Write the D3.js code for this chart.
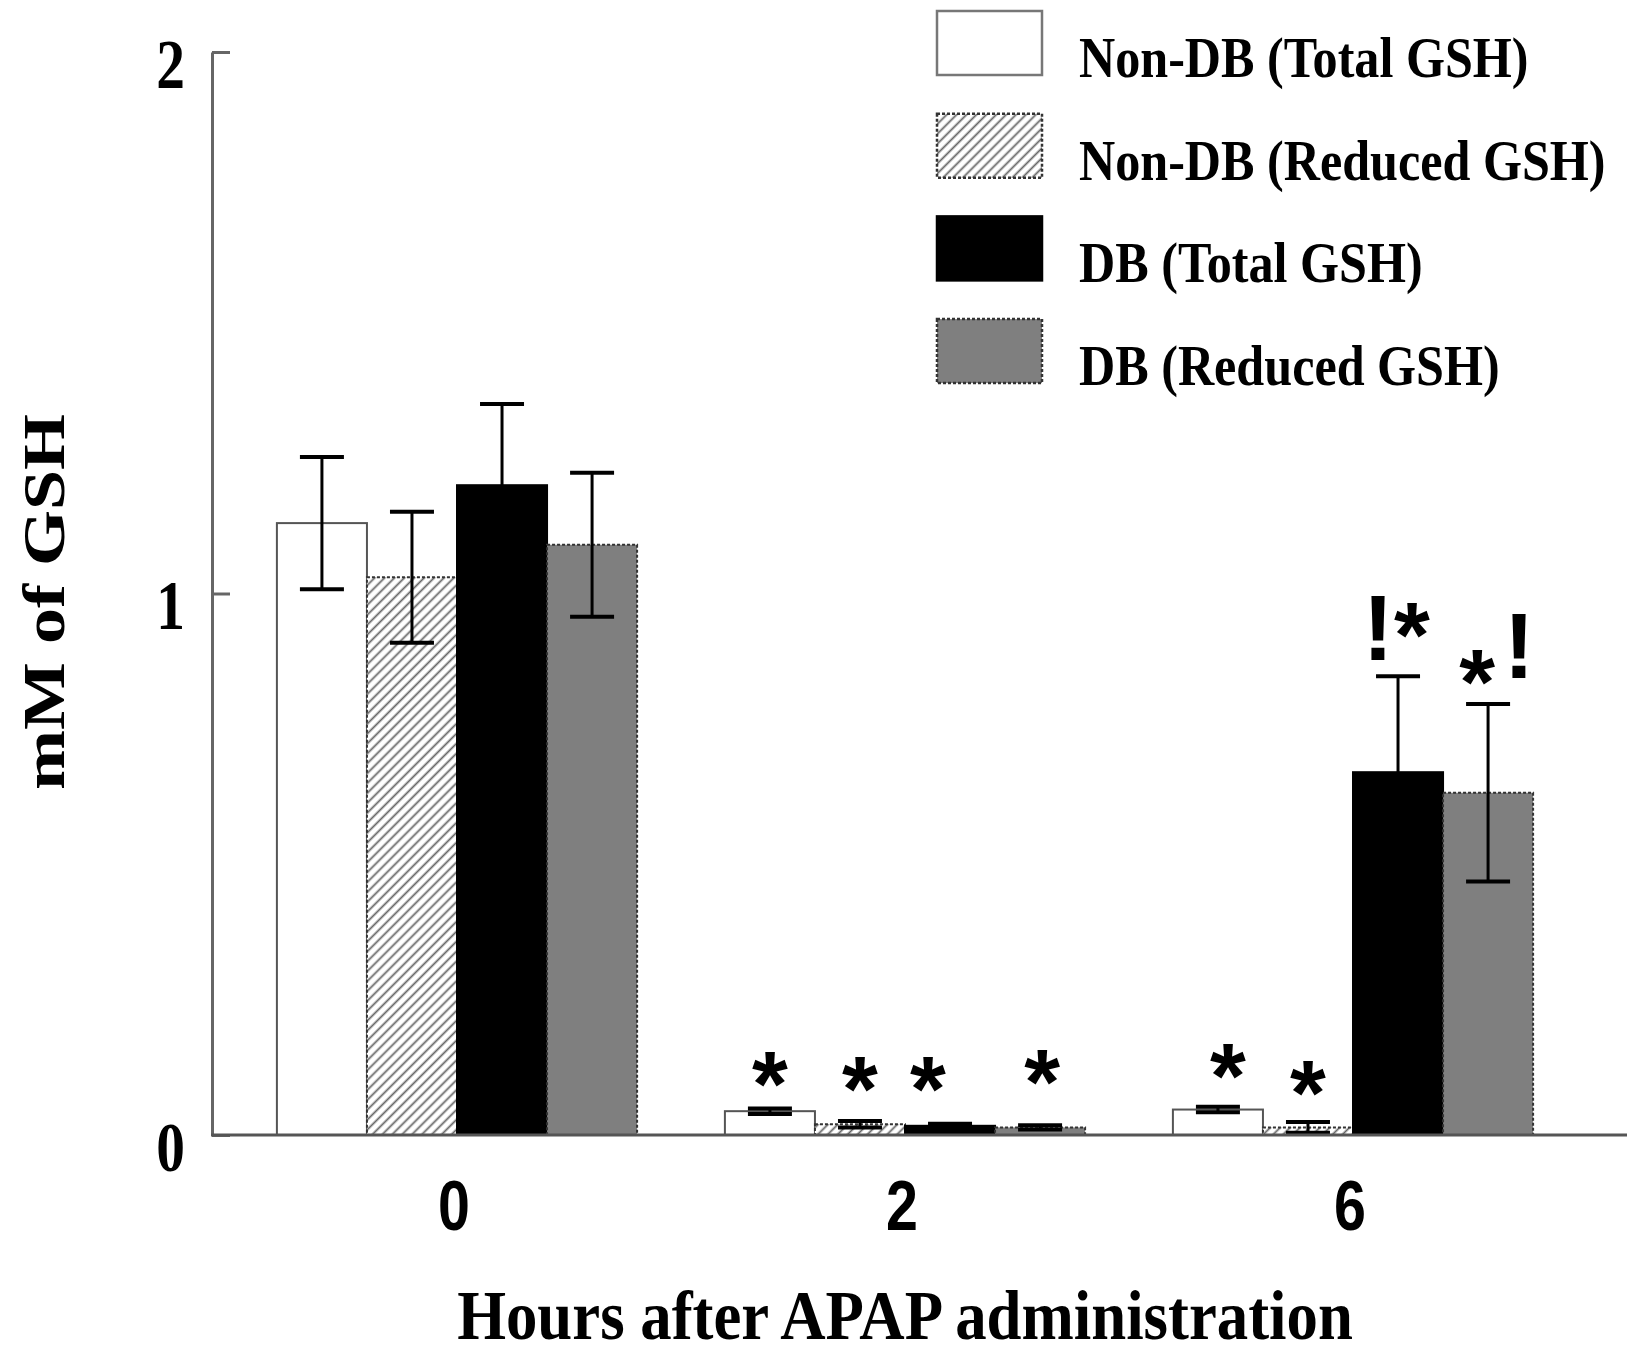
<!DOCTYPE html>
<html>
<head>
<meta charset="utf-8">
<script src="https://cdn.jsdelivr.net/npm/d3@7"></script>
<style>
  html, body { margin: 0; padding: 0; background: #fff; }
  svg { display: block; }
</style>
</head>
<body>
<svg id="chart" width="1627" height="1355"></svg>
<script>
// ---------- data ----------
const hours = ["0", "2", "6"];
const seriesNames = ["Non-DB (Total GSH)", "Non-DB (Reduced GSH)", "DB (Total GSH)", "DB (Reduced GSH)"];
const nonDbTotal       = [1.13, 0.044, 0.047];
const nonDbReduced     = [1.03, 0.020, 0.014];
const dbTotal          = [1.20, 0.017, 0.670];
const dbReduced        = [1.09, 0.014, 0.632];
const nonDbTotalErr    = [0.122, 0.005, 0.005];
const nonDbReducedErr  = [0.121, 0.006, 0.010];
const dbTotalErr       = [0.150, 0.004, 0.177];
const dbReducedErr     = [0.133, 0.004, 0.164];
const yTicks = [0, 1, 2];
const yTitle = "mM of GSH";
const xTitle = "Hours after APAP administration";
// significance marks: hour, series index, glyph
const marks = [
  {hour: "2", s: 0, t: "*"}, {hour: "2", s: 1, t: "*"}, {hour: "2", s: 2, t: "*"}, {hour: "2", s: 3, t: "*"},
  {hour: "6", s: 0, t: "*"}, {hour: "6", s: 1, t: "*"},
  {hour: "6", s: 2, t: "!"}, {hour: "6", s: 2, t: "*"},
  {hour: "6", s: 3, t: "*"}, {hour: "6", s: 3, t: "!"}
];

const values = [nonDbTotal, nonDbReduced, dbTotal, dbReduced];
const errors = [nonDbTotalErr, nonDbReducedErr, dbTotalErr, dbReducedErr];

// ---------- layout / style (not data) ----------
const markNudge = [ // [dx, gap above error top to glyph centre / bottom]
  [0, 44], [0, 51], [-22, 54], [2, 63],
  [10, 50], [0, 49],
  [-20, 16], [14, 61],
  [-11, 41], [31, 26]
];
const styles = [
  {fill: "#ffffff", stroke: "#555", dash: null, sw: 2},
  {fill: "url(#hatch)", stroke: "#333", dash: "3,2", sw: 2},
  {fill: "#000000", stroke: "#000", dash: null, sw: 2},
  {fill: "#7f7f7f", stroke: "#333", dash: "3,2", sw: 2}
];
const SERIF = "'Liberation Serif', 'Times New Roman', serif";
const SANS = "'Liberation Sans', Arial, sans-serif";

const svg = d3.select("#chart");
svg.append("rect").attr("width", 1627).attr("height", 1355).attr("fill", "#fff");

const defs = svg.append("defs");
const pat = defs.append("pattern").attr("id", "hatch")
  .attr("patternUnits", "userSpaceOnUse").attr("width", 7).attr("height", 7)
  .attr("patternTransform", "rotate(45)");
pat.append("rect").attr("width", 7).attr("height", 7).attr("fill", "#fff");
pat.append("line").attr("x1", 1.5).attr("y1", 0).attr("x2", 1.5).attr("y2", 7)
  .attr("stroke", "#666").attr("stroke-width", 1.8);

const y = d3.scaleLinear().domain([0, 2]).range([1135, 52]);
const x0 = d3.scaleBand().domain(hours).range([233, 1577]).paddingInner(0.196).paddingOuter(0.098);
const x1 = d3.scaleBand().domain(d3.range(seriesNames.length)).range([0, x0.bandwidth()]);

// bars
const plot = svg.append("g");
hours.forEach((h, hi) => {
  seriesNames.forEach((name, si) => {
    const v = values[si][hi];
    const st = styles[si];
    plot.append("rect")
      .attr("x", x0(h) + x1(si))
      .attr("y", y(v))
      .attr("width", x1.bandwidth())
      .attr("height", y(0) - y(v))
      .attr("fill", st.fill)
      .attr("stroke", st.stroke)
      .attr("stroke-width", st.sw)
      .attr("stroke-dasharray", st.dash);
  });
});

// error bars
const capW = 44;
hours.forEach((h, hi) => {
  seriesNames.forEach((name, si) => {
    const v = values[si][hi], e = errors[si][hi];
    const cx = x0(h) + x1(si) + x1.bandwidth() / 2;
    const g = plot.append("g").attr("stroke", "#000");
    g.append("line").attr("x1", cx).attr("x2", cx).attr("y1", y(v + e)).attr("y2", y(v - e)).attr("stroke-width", 3);
    [v + e, v - e].forEach(val => {
      g.append("line").attr("x1", cx - capW / 2).attr("x2", cx + capW / 2)
        .attr("y1", y(val)).attr("y2", y(val)).attr("stroke-width", 4);
    });
  });
});

// significance marks
const FS_MARK = 92;
marks.forEach((m, i) => {
  const hi = hours.indexOf(m.hour);
  const top = y(values[m.s][hi] + errors[m.s][hi]);
  const cx = x0(m.hour) + x1(m.s) + x1.bandwidth() / 2 + markNudge[i][0];
  let base;
  if (m.t === "*") base = top - markNudge[i][1] + 0.56 * FS_MARK; // glyph centre -> baseline
  else base = top - markNudge[i][1];
  svg.append("text").attr("x", cx).attr("y", base)
    .attr("text-anchor", "middle")
    .attr("font-family", SANS).attr("font-weight", "bold").attr("font-size", FS_MARK)
    .text(m.t);
});

// axes
const yAxis = svg.append("g").attr("transform", "translate(212,0)")
  .call(d3.axisLeft(y).tickValues(yTicks).tickFormat(d3.format("d"))
    .tickSizeInner(-18).tickSizeOuter(0).tickPadding(27));
yAxis.select(".domain").attr("stroke", "#666").attr("stroke-width", 3);
yAxis.selectAll(".tick line").attr("stroke", "#666").attr("stroke-width", 3);
yAxis.selectAll(".tick text")
  .attr("x", null).attr("dy", null)
  .attr("transform", "translate(-27,35) scale(0.82,1)")
  .attr("fill", "#000")
  .attr("font-family", SERIF).attr("font-weight", "bold").attr("font-size", 70);

const xAxis = svg.append("g").attr("transform", "translate(0,1135)")
  .call(d3.axisBottom(x0).tickSize(0).tickPadding(0));
xAxis.select(".domain").remove();
xAxis.selectAll(".tick text")
  .attr("y", null).attr("dy", null)
  .attr("transform", "translate(-3,95) scale(0.82,1)")
  .attr("fill", "#000")
  .attr("font-family", SANS).attr("font-weight", "bold").attr("font-size", 70);
svg.append("line").attr("x1", 211).attr("x2", 1627).attr("y1", y(0)).attr("y2", y(0))
  .attr("stroke", "#555").attr("stroke-width", 3);

// axis titles
svg.append("text")
  .attr("transform", "translate(905,1339) scale(0.91,1)")
  .attr("text-anchor", "middle")
  .attr("font-family", SERIF).attr("font-weight", "bold").attr("font-size", 69)
  .text(xTitle);
svg.append("text")
  .attr("transform", "translate(64,602) scale(0.82,1) rotate(-90)")
  .attr("text-anchor", "middle")
  .attr("font-family", SERIF).attr("font-weight", "bold").attr("font-size", 72)
  .text(yTitle);

// legend
const legend = svg.append("g");
seriesNames.forEach((name, i) => {
  const top = 11 + i * 102.7;
  const st = styles[i];
  legend.append("rect").attr("x", 937).attr("y", top).attr("width", 105).attr("height", 64)
    .attr("fill", st.fill).attr("stroke", i === 0 ? "#777" : st.stroke)
    .attr("stroke-width", 2.5).attr("stroke-dasharray", st.dash);
  legend.append("text")
    .attr("transform", `translate(1079,${top + 66}) scale(0.88,1)`)
    .attr("font-family", SERIF).attr("font-weight", "bold").attr("font-size", 57)
    .text(name);
});
</script>
</body>
</html>
